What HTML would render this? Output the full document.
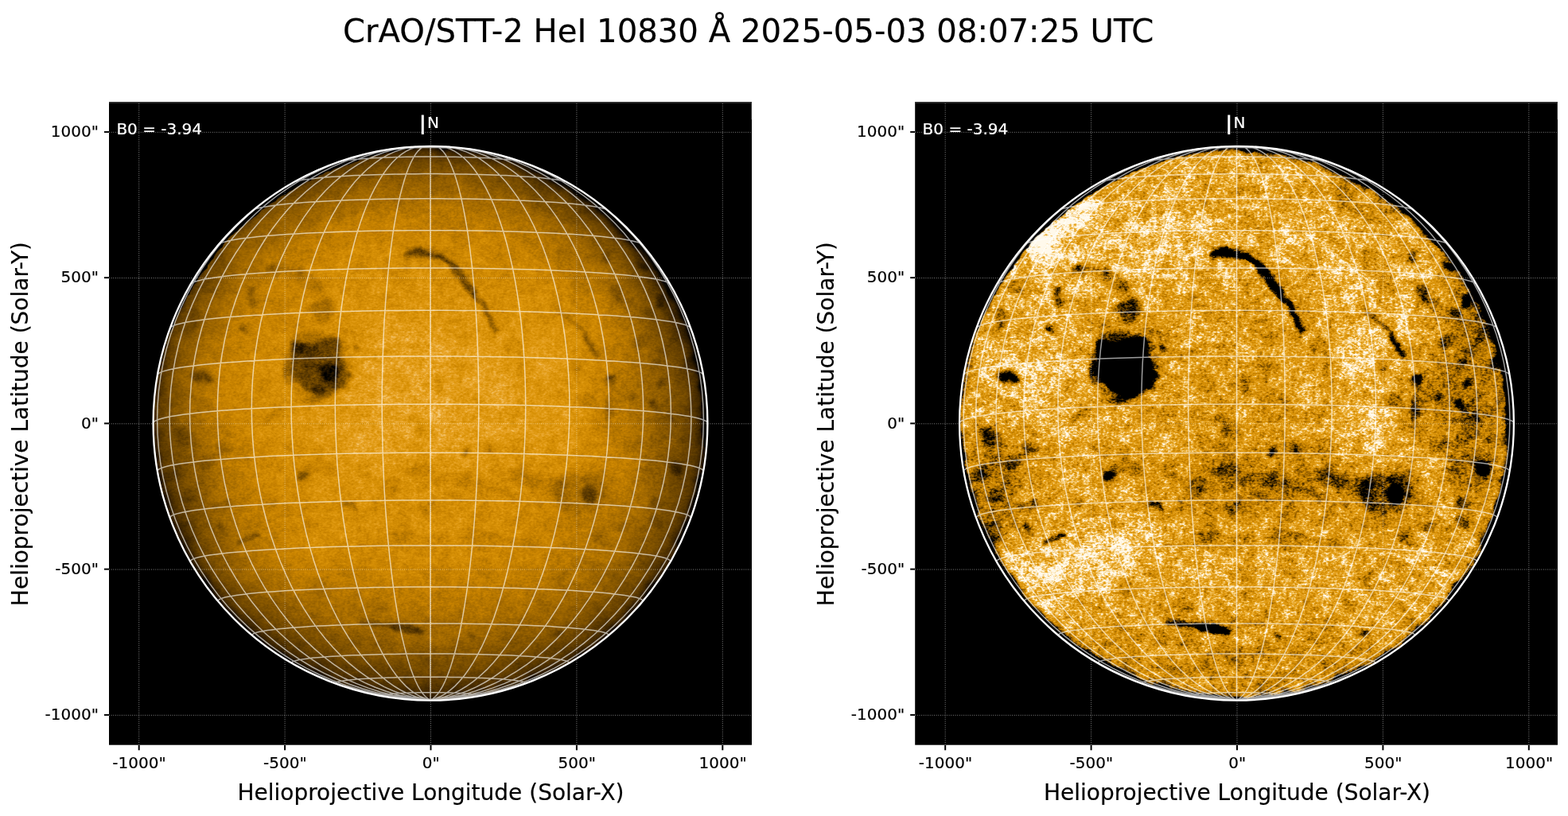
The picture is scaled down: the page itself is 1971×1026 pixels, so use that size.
<!DOCTYPE html>
<html lang="en"><head><meta charset="utf-8"><title>CrAO/STT-2 HeI 10830 Å</title>
<style>html,body{margin:0;padding:0;background:#fff;overflow:hidden}svg{display:block}text{font-family:"DejaVu Sans","Liberation Sans",sans-serif;fill:#000;stroke:#000;stroke-width:0.18px}.w{fill:#fff;stroke:#fff}</style></head><body>
<svg width="1971" height="1026" viewBox="0 0 1971 1026">
<defs>
<filter id="b0" x="-50%" y="-50%" width="200%" height="200%"><feGaussianBlur stdDeviation="0.7"/></filter><filter id="b1" x="-50%" y="-50%" width="200%" height="200%"><feGaussianBlur stdDeviation="1.2"/></filter><filter id="b2" x="-50%" y="-50%" width="200%" height="200%"><feGaussianBlur stdDeviation="2.5"/></filter><filter id="b3" x="-50%" y="-50%" width="200%" height="200%"><feGaussianBlur stdDeviation="5"/></filter><filter id="b4" x="-50%" y="-50%" width="200%" height="200%"><feGaussianBlur stdDeviation="10"/></filter><filter id="b5" x="-50%" y="-50%" width="200%" height="200%"><feGaussianBlur stdDeviation="20"/></filter><filter id="cmL" x="-2%" y="-2%" width="104%" height="104%" color-interpolation-filters="sRGB"><feTurbulence type="fractalNoise" baseFrequency="0.045" numOctaves="2" seed="5" result="dt"/><feDisplacementMap in="SourceGraphic" in2="dt" scale="11" xChannelSelector="R" yChannelSelector="G" result="ds"/><feColorMatrix in="ds" type="matrix" values="0 1 0 0 0 0 1 0 0 0 0 1 0 0 0 0 0 0 0 1" result="ld"/><feColorMatrix in="ds" type="matrix" values="1 0 0 0 0 1 0 0 0 0 1 0 0 0 0 0 0 0 0 1" result="f0"/><feTurbulence type="fractalNoise" baseFrequency="0.04 0.05" numOctaves="2" seed="9" result="t0"/><feColorMatrix in="t0" type="matrix" values="0 0 1 0 0 0 0 1 0 0 0 0 1 0 0 0 0 0 0 1" result="n0"/><feComposite in="f0" in2="n0" operator="arithmetic" k1="0" k2="1" k3="0.120" k4="-0.060" result="c0"/><feTurbulence type="fractalNoise" baseFrequency="0.12 0.16" numOctaves="2" seed="3" result="t1"/><feColorMatrix in="t1" type="matrix" values="1 0 0 0 0 1 0 0 0 0 1 0 0 0 0 0 0 0 0 1" result="n1"/><feComposite in="c0" in2="n1" operator="arithmetic" k1="0" k2="1" k3="0.125" k4="-0.062" result="c1"/><feTurbulence type="fractalNoise" baseFrequency="0.3 0.46" numOctaves="2" seed="7" result="t2"/><feColorMatrix in="t2" type="matrix" values="0 1 0 0 0 0 1 0 0 0 0 1 0 0 0 0 0 0 0 1" result="n2"/><feComposite in="c1" in2="n2" operator="arithmetic" k1="0" k2="1" k3="0.165" k4="-0.083" result="c2"/><feComposite in="c2" in2="ld" operator="arithmetic" k1="1" k2="0" k3="0" k4="0" result="fl"/><feComponentTransfer in="fl"><feFuncR type="table" tableValues="0 0.054 0.108 0.162 0.22 0.279 0.337 0.394 0.444 0.494 0.544 0.594 0.638 0.682 0.726 0.77 0.802 0.833 0.862 0.885 0.907 0.927 0.947 0.962 0.974 0.984 0.991 0.999 1 1 1 1 1 1 1 1 1 1 1 1 1"/><feFuncG type="table" tableValues="0 0.032 0.065 0.097 0.134 0.173 0.212 0.25 0.284 0.317 0.351 0.384 0.414 0.444 0.473 0.503 0.529 0.555 0.582 0.611 0.639 0.687 0.738 0.791 0.845 0.892 0.932 0.972 0.98 0.98 0.98 0.98 0.98 0.98 0.98 0.98 0.98 0.98 0.98 0.98 0.98"/><feFuncB type="table" tableValues="0 0 0 0 0 0 0 0 0 0 0 0 0 0 0 0 0.009 0.018 0.04 0.091 0.142 0.246 0.358 0.474 0.591 0.7 0.8 0.901 0.922 0.922 0.922 0.922 0.922 0.922 0.922 0.922 0.922 0.922 0.922 0.922 0.922"/></feComponentTransfer></filter><filter id="cmR" x="-2%" y="-2%" width="104%" height="104%" color-interpolation-filters="sRGB"><feTurbulence type="fractalNoise" baseFrequency="0.045" numOctaves="2" seed="5" result="dt"/><feDisplacementMap in="SourceGraphic" in2="dt" scale="11" xChannelSelector="R" yChannelSelector="G" result="ds"/><feColorMatrix in="ds" type="matrix" values="0 1 0 0 0 0 1 0 0 0 0 1 0 0 0 0 0 0 0 1" result="ld"/><feColorMatrix in="ds" type="matrix" values="1 0 0 0 0 1 0 0 0 0 1 0 0 0 0 0 0 0 0 1" result="f0"/><feTurbulence type="fractalNoise" baseFrequency="0.04 0.05" numOctaves="2" seed="9" result="t0"/><feColorMatrix in="t0" type="matrix" values="0 0 1 0 0 0 0 1 0 0 0 0 1 0 0 0 0 0 0 1" result="n0"/><feComposite in="f0" in2="n0" operator="arithmetic" k1="0" k2="1" k3="0.120" k4="-0.060" result="c0"/><feTurbulence type="fractalNoise" baseFrequency="0.12 0.16" numOctaves="2" seed="3" result="t1"/><feColorMatrix in="t1" type="matrix" values="1 0 0 0 0 1 0 0 0 0 1 0 0 0 0 0 0 0 0 1" result="n1"/><feComposite in="c0" in2="n1" operator="arithmetic" k1="0" k2="1" k3="0.125" k4="-0.062" result="c1"/><feTurbulence type="fractalNoise" baseFrequency="0.3 0.46" numOctaves="2" seed="7" result="t2"/><feColorMatrix in="t2" type="matrix" values="0 1 0 0 0 0 1 0 0 0 0 1 0 0 0 0 0 0 0 1" result="n2"/><feComposite in="c1" in2="n2" operator="arithmetic" k1="0" k2="1" k3="0.165" k4="-0.083" result="c2"/><feComposite in="c2" in2="ld" operator="arithmetic" k1="1" k2="0" k3="0" k4="0" result="fl"/><feComponentTransfer in="fl"><feFuncR type="table" tableValues="0 0 0 0 0 0 0 0 0 0 0 0 0 0 0.071 0.26 0.45 0.618 0.763 0.846 0.897 0.946 0.985 1 1 1 1 1 1 1 1 1 1 1 1 1 1 1 1 1 1"/><feFuncG type="table" tableValues="0 0 0 0 0 0 0 0 0 0 0 0 0 0 0.042 0.162 0.287 0.4 0.498 0.566 0.63 0.745 0.896 0.98 0.98 0.98 0.98 0.98 0.98 0.98 0.98 0.98 0.98 0.98 0.98 0.98 0.98 0.98 0.98 0.98 0.98"/><feFuncB type="table" tableValues="0 0 0 0 0 0 0 0 0 0 0 0 0 0 0 0 0 0 0 0.021 0.112 0.333 0.71 0.922 0.922 0.922 0.922 0.922 0.922 0.922 0.922 0.922 0.922 0.922 0.922 0.922 0.922 0.922 0.922 0.922 0.922"/></feComponentTransfer></filter><linearGradient id="vg" x1="0" y1="-350" x2="0" y2="350" gradientUnits="userSpaceOnUse"><stop offset="0" stop-color="#fff6ff"/><stop offset="0.35" stop-color="#ffffff"/><stop offset="0.6" stop-color="#fff8ff"/><stop offset="0.8" stop-color="#ffe4ff"/><stop offset="1" stop-color="#ffccff"/></linearGradient><radialGradient id="ld" cx="0" cy="0" r="348.4" gradientUnits="userSpaceOnUse" gradientTransform="matrix(1 0 0.018 1 -3 0.3)"><stop offset="0" stop-color="#ffffff"/><stop offset="0.25" stop-color="#fff5ff"/><stop offset="0.5" stop-color="#ffdeff"/><stop offset="0.65" stop-color="#ffcbff"/><stop offset="0.77" stop-color="#ffb4ff"/><stop offset="0.85" stop-color="#ff98ff"/><stop offset="0.9" stop-color="#ff80ff"/><stop offset="0.94" stop-color="#ff6aff"/><stop offset="0.965" stop-color="#ff54ff"/><stop offset="0.985" stop-color="#ff36ff"/><stop offset="1.0" stop-color="#ff08ff"/></radialGradient><radialGradient id="ldr" cx="0" cy="0" r="348.4" gradientUnits="userSpaceOnUse" gradientTransform="matrix(1 0 0.018 1 -3 0.3)"><stop offset="0" stop-color="#fff4ff"/><stop offset="0.4" stop-color="#fff9ff"/><stop offset="0.7" stop-color="#ffffff"/><stop offset="0.965" stop-color="#ffffff"/><stop offset="0.98" stop-color="#ffe0ff"/><stop offset="0.99" stop-color="#ff99ff"/><stop offset="1.0" stop-color="#ff00ff"/></radialGradient>
<clipPath id="disk"><path d="M348.9,-0.0 348.4,-18.3 347.0,-36.5 344.6,-54.6 341.3,-72.5 337.0,-90.3 331.8,-107.8 325.7,-125.0 318.7,-141.9 310.9,-158.4 302.2,-174.5 292.6,-190.0 282.3,-205.1 271.1,-219.6 259.3,-233.5 246.7,-246.7 233.5,-259.3 219.6,-271.1 205.1,-282.3 190.0,-292.6 174.5,-302.2 158.4,-310.9 141.9,-318.7 125.0,-325.7 107.8,-331.8 90.3,-337.0 72.5,-341.3 54.6,-344.5 36.5,-347.0 32.8,-347.4 29.2,-347.2 25.5,-347.9 21.9,-348.2 18.2,-347.7 14.5,-346.9 10.9,-347.1 7.3,-347.1 3.6,-348.0 0.0,-347.2 -3.6,-347.5 -7.3,-347.5 -10.9,-347.3 -14.5,-346.8 -18.1,-345.2 -21.7,-344.9 -25.3,-344.5 -28.9,-344.0 -32.6,-344.6 -36.1,-343.8 -39.6,-342.6 -43.2,-341.8 -46.7,-340.9 -50.2,-340.1 -54.0,-340.8 -57.3,-339.0 -60.8,-338.1 -64.4,-337.6 -68.0,-337.3 -71.4,-335.9 -75.0,-335.6 -78.1,-333.2 -81.6,-332.3 -85.2,-331.8 -88.7,-331.2 -91.9,-329.0 -95.4,-328.5 -98.7,-326.8 -102.0,-325.6 -105.6,-324.9 -109.0,-323.8 -112.2,-322.2 -115.7,-321.3 -119.2,-320.5 -122.4,-318.9 -125.4,-316.8 -129.2,-316.7 -132.5,-315.3 -135.4,-312.9 -138.9,-312.0 -142.0,-310.1 -145.2,-308.6 -148.5,-307.3 -151.2,-304.6 -155.0,-304.3 -158.0,-302.2 -161.3,-300.9 -164.1,-298.5 -167.5,-297.3 -170.5,-295.3 -173.2,-292.9 -176.7,-291.7 -179.5,-289.5 -182.2,-287.1 -186.0,-286.5 -189.1,-284.6 -191.9,-282.4 -194.3,-279.6 -197.4,-277.8 -200.8,-276.3 -203.6,-274.1 -206.6,-272.2 -209.2,-269.7 -212.5,-268.1 -214.6,-265.0 -217.1,-262.5 -219.9,-260.2 -223.0,-258.3 -225.6,-255.8 -229.5,-254.9 -232.0,-252.3 -233.9,-249.1 -236.9,-247.0 -240.1,-245.2 -242.1,-242.1 -245.2,-240.1 -247.6,-237.4 -250.9,-235.6 -253.5,-233.1 -255.5,-230.1 -258.2,-227.7 -260.2,-224.6 -261.6,-221.1 -264.7,-219.0 -267.4,-216.5 -269.5,-213.6 -271.4,-210.5 -272.7,-207.0 -275.3,-204.5 -277.5,-201.6 -279.8,-198.8 -280.5,-194.9 -283.5,-192.6 -285.9,-190.0 -288.3,-187.2 -290.3,-184.3 -292.2,-181.2 -293.4,-177.7 -296.2,-175.2 -298.4,-172.3 -299.6,-168.8 -301.8,-165.9 -302.5,-162.2 -305.7,-159.8 -306.8,-156.3 -308.2,-153.0 -310.5,-150.1 -311.2,-146.4 -313.7,-143.6 -315.6,-140.5 -316.9,-137.2 -319.1,-134.1 -320.0,-130.6 -321.7,-127.4 -322.1,-123.6 -323.6,-120.3 -325.5,-117.2 -327.6,-114.1 -328.5,-110.5 -329.7,-107.1 -330.9,-103.7 -332.1,-100.3 -332.1,-96.5 -334.4,-93.4 -335.6,-89.9 -335.1,-86.0 -336.7,-82.7 -336.9,-79.0 -338.8,-75.7 -338.8,-72.0 -340.1,-68.6 -340.6,-65.0 -341.4,-61.4 -342.6,-57.9 -343.9,-54.5 -344.3,-50.8 -343.7,-47.1 -344.2,-43.5 -344.7,-39.9 -346.2,-36.4 -346.0,-32.7 -346.2,-29.1 -346.8,-25.5 -346.8,-21.8 -347.6,-18.2 -347.6,-14.6 -347.7,-10.9 -348.6,-7.3 -347.6,-3.6 -347.6,-0.0 -348.9,3.7 -347.5,7.3 -347.5,10.9 -347.9,14.6 -348.4,18.3 -347.2,21.8 -347.7,25.5 -346.0,43.7 -343.4,61.8 -339.7,79.7 -335.0,97.3 -329.5,114.7 -323.0,131.8 -315.7,148.6 -307.5,164.9 -298.4,180.7 -288.6,196.1 -277.9,210.9 -266.5,225.2 -254.3,238.8 -241.5,251.8 -228.0,264.1 -213.8,275.7 -199.1,286.5 -183.9,296.5 -168.1,305.7 -151.9,314.1 -135.2,321.6 -118.2,328.3 -100.8,334.0 -83.2,338.8 -65.4,342.7 -47.4,345.7 -29.2,347.7 -11.0,348.7 7.3,348.8 25.6,348.0 43.7,346.1 61.8,343.4 79.7,339.7 97.3,335.0 114.7,329.5 131.8,323.0 148.6,315.7 164.9,307.5 180.7,298.4 196.1,288.6 210.9,277.9 225.2,266.5 238.8,254.3 251.8,241.5 264.1,228.0 275.7,213.8 286.5,199.1 296.5,183.9 305.7,168.1 314.1,151.9 321.6,135.2 328.3,118.2 334.0,100.8 338.8,83.2 342.7,65.4 345.7,47.4 347.7,29.2 348.7,11.0Z"/></clipPath>
<g id="feat"><g filter="url(#b5)"><ellipse cx="70" cy="78" rx="150" ry="36" fill="#00ff00" opacity="0.075"/><ellipse cx="295" cy="-50" rx="36" ry="170" fill="#00ff00" opacity="0.16"/><ellipse cx="-300" cy="70" rx="38" ry="80" fill="#00ff00" opacity="0.14"/><ellipse cx="0" cy="305" rx="250" ry="55" fill="#00ff00" opacity="0.06"/><ellipse cx="-150" cy="-130" rx="50" ry="50" fill="#00ff00" opacity="0.08"/><ellipse cx="200" cy="90" rx="45" ry="35" fill="#00ff00" opacity="0.1"/><ellipse cx="215" cy="-30" rx="40" ry="60" fill="#00ff00" opacity="0.08"/><ellipse cx="-230" cy="-240" rx="60" ry="28" transform="rotate(-45 -230 -240)" fill="#ffff00" opacity="0.1"/><ellipse cx="-185" cy="168" rx="100" ry="26" transform="rotate(-17 -185 168)" fill="#ffff00" opacity="0.1"/><ellipse cx="-120" cy="-200" rx="120" ry="60" transform="rotate(-20 -120 -200)" fill="#ffff00" opacity="0.04"/><ellipse cx="-250" cy="-60" rx="50" ry="60" fill="#ffff00" opacity="0.05"/><ellipse cx="160" cy="-60" rx="35" ry="110" fill="#ffff00" opacity="0.05"/></g><g filter="url(#b4)"><ellipse cx="-251" cy="-226" rx="16.2" ry="15" transform="rotate(-45 -251 -226)" fill="#ffff00" opacity="0.14450000000000002"/><ellipse cx="-190" cy="-276" rx="18.8" ry="8.8" transform="rotate(-30 -190 -276)" fill="#ffff00" opacity="0.119"/><ellipse cx="-220" cy="-256" rx="37.5" ry="11.2" transform="rotate(-42 -220 -256)" fill="#ffff00" opacity="0.051000000000000004"/><ellipse cx="-235" cy="-235" rx="47.5" ry="18.8" transform="rotate(-45 -235 -235)" fill="#ffff00" opacity="0.034"/><ellipse cx="-315" cy="-85" rx="12.5" ry="20" fill="#ffff00" opacity="0.051000000000000004"/><ellipse cx="-215" cy="-62" rx="12.5" ry="12.5" fill="#ffff00" opacity="0.0425"/><ellipse cx="-274" cy="4" rx="17.5" ry="12.5" fill="#ffff00" opacity="0.0425"/><ellipse cx="-170" cy="14" rx="68.8" ry="11.2" transform="rotate(8 -170 14)" fill="#ffff00" opacity="0.0425"/><ellipse cx="-250" cy="-40" rx="15" ry="31.2" transform="rotate(-30 -250 -40)" fill="#ffff00" opacity="0.025500000000000002"/><ellipse cx="-240" cy="189" rx="22.5" ry="15" transform="rotate(-20 -240 189)" fill="#ffff00" opacity="0.068"/><ellipse cx="-231" cy="207" rx="15" ry="10" fill="#ffff00" opacity="0.051000000000000004"/><ellipse cx="-167" cy="150" rx="31.2" ry="12.5" transform="rotate(-5 -167 150)" fill="#ffff00" opacity="0.025500000000000002"/><ellipse cx="-144" cy="155" rx="25" ry="12.5" fill="#ffff00" opacity="0.0204"/><ellipse cx="-281" cy="180" rx="15" ry="12.5" fill="#ffff00" opacity="0.051000000000000004"/><ellipse cx="-100" cy="138" rx="22.5" ry="15" fill="#ffff00" opacity="0.025500000000000002"/><ellipse cx="-69" cy="177" rx="31.2" ry="12.5" fill="#ffff00" opacity="0.0204"/><ellipse cx="-80" cy="-240" rx="43.8" ry="31.2" fill="#ffff00" opacity="0.030600000000000002"/><ellipse cx="-50" cy="-110" rx="15" ry="7.5" fill="#ffff00" opacity="0.0425"/><ellipse cx="70" cy="-225" rx="37.5" ry="25" fill="#ffff00" opacity="0.025500000000000002"/><ellipse cx="135" cy="-178" rx="18.8" ry="43.8" fill="#ffff00" opacity="0.0595"/><ellipse cx="177" cy="4" rx="22.5" ry="40" fill="#ffff00" opacity="0.0595"/><ellipse cx="160" cy="-90" rx="25" ry="37.5" fill="#ffff00" opacity="0.034"/><ellipse cx="297" cy="-58" rx="22.5" ry="27.5" fill="#ffff00" opacity="0.034"/><ellipse cx="246" cy="66" rx="20" ry="31.2" fill="#ffff00" opacity="0.0374"/><ellipse cx="91" cy="-46" rx="28.8" ry="28.8" fill="#ffff00" opacity="0.025500000000000002"/><ellipse cx="45" cy="204" rx="6.2" ry="10" fill="#ffff00" opacity="0.051000000000000004"/><ellipse cx="-20" cy="190" rx="50" ry="15" fill="#ffff00" opacity="0.025500000000000002"/><ellipse cx="134" cy="206" rx="7.5" ry="7.5" fill="#ffff00" opacity="0.0425"/><ellipse cx="-92" cy="18" rx="28.8" ry="17.5" fill="#ffff00" opacity="0.034"/><ellipse cx="-30" cy="-70" rx="56.2" ry="62.5" fill="#ffff00" opacity="0.017"/></g><g filter="url(#b2)"><ellipse cx="-12" cy="59" rx="18" ry="9" fill="#00ff00" opacity="0.15300000000000002"/><ellipse cx="-46" cy="80" rx="13" ry="11" fill="#00ff00" opacity="0.117"/><ellipse cx="13" cy="73" rx="11" ry="11" fill="#00ff00" opacity="0.108"/><ellipse cx="43" cy="71" rx="11" ry="13" fill="#00ff00" opacity="0.117"/><ellipse cx="66" cy="80" rx="11" ry="11" fill="#00ff00" opacity="0.108"/><ellipse cx="114" cy="64" rx="13" ry="11" fill="#00ff00" opacity="0.117"/><ellipse cx="131" cy="75" rx="11" ry="11" fill="#00ff00" opacity="0.117"/><ellipse cx="157" cy="80" rx="13" ry="13" fill="#00ff00" opacity="0.12600000000000003"/><ellipse cx="188" cy="89" rx="36" ry="26" fill="#00ff00" opacity="0.135"/><ellipse cx="-135" cy="-143" rx="15" ry="13" fill="#00ff00" opacity="0.189"/><ellipse cx="-162" cy="-187" rx="9" ry="6" fill="#00ff00" opacity="0.14400000000000002"/><ellipse cx="-144" cy="-173" rx="9" ry="7" fill="#00ff00" opacity="0.14400000000000002"/><ellipse cx="-175" cy="-190" rx="31" ry="7" transform="rotate(15 -175 -190)" fill="#00ff00" opacity="0.1125"/><ellipse cx="-311" cy="16" rx="9" ry="13" fill="#00ff00" opacity="0.162"/><ellipse cx="-322" cy="64" rx="9" ry="11" fill="#00ff00" opacity="0.14400000000000002"/><ellipse cx="-281" cy="50" rx="9" ry="9" fill="#00ff00" opacity="0.135"/><ellipse cx="-258" cy="30" rx="9" ry="9" fill="#00ff00" opacity="0.135"/><ellipse cx="-304" cy="91" rx="11" ry="9" fill="#00ff00" opacity="0.135"/><ellipse cx="-258" cy="105" rx="11" ry="6" transform="rotate(-20 -258 105)" fill="#00ff00" opacity="0.162"/><ellipse cx="-297" cy="-134" rx="9" ry="11" fill="#00ff00" opacity="0.162"/><ellipse cx="-279" cy="-171" rx="9" ry="9" fill="#00ff00" opacity="0.1125"/><ellipse cx="-300" cy="-123" rx="7" ry="7" fill="#00ff00" opacity="0.135"/><ellipse cx="-231" cy="-121" rx="7" ry="6" fill="#00ff00" opacity="0.162"/><ellipse cx="-305" cy="135" rx="11" ry="16" fill="#00ff00" opacity="0.135"/><ellipse cx="10" cy="-48" rx="5" ry="13" fill="#00ff00" opacity="0.189"/><ellipse cx="-21" cy="-7" rx="7" ry="6" fill="#00ff00" opacity="0.1125"/><ellipse cx="-16" cy="10" rx="7" ry="7" fill="#00ff00" opacity="0.1125"/><ellipse cx="4" cy="10" rx="6" ry="9" fill="#00ff00" opacity="0.1125"/><ellipse cx="-5" cy="105" rx="7" ry="9" fill="#00ff00" opacity="0.135"/><ellipse cx="-201" cy="-9" rx="9" ry="7" fill="#00ff00" opacity="0.09000000000000001"/><ellipse cx="-137" cy="55" rx="26" ry="9" transform="rotate(10 -137 55)" fill="#00ff00" opacity="0.1125"/><ellipse cx="236" cy="-160" rx="6" ry="14" transform="rotate(-15 236 -160)" fill="#00ff00" opacity="0.189"/><ellipse cx="223" cy="-210" rx="6" ry="10" transform="rotate(-15 223 -210)" fill="#00ff00" opacity="0.14400000000000002"/><ellipse cx="177" cy="-208" rx="7" ry="7" fill="#00ff00" opacity="0.09000000000000001"/><ellipse cx="184" cy="-176" rx="7" ry="9" fill="#00ff00" opacity="0.09000000000000001"/><ellipse cx="184" cy="-73" rx="9" ry="9" fill="#00ff00" opacity="0.135"/><ellipse cx="193" cy="-28" rx="9" ry="9" fill="#00ff00" opacity="0.135"/><ellipse cx="255" cy="-34" rx="7" ry="7" fill="#00ff00" opacity="0.135"/><ellipse cx="285" cy="-71" rx="7" ry="6" fill="#00ff00" opacity="0.135"/><ellipse cx="225" cy="-20" rx="7" ry="21" transform="rotate(5 225 -20)" fill="#00ff00" opacity="0.189"/><ellipse cx="326" cy="-80" rx="6" ry="15" fill="#00ff00" opacity="0.189"/><ellipse cx="285" cy="100" rx="9" ry="9" fill="#00ff00" opacity="0.162"/><ellipse cx="257" cy="25" rx="11" ry="9" fill="#00ff00" opacity="0.1125"/><ellipse cx="276" cy="-139" rx="7" ry="7" fill="#00ff00" opacity="0.162"/><ellipse cx="212" cy="145" rx="7" ry="9" fill="#00ff00" opacity="0.135"/><ellipse cx="207" cy="175" rx="8" ry="7" fill="#00ff00" opacity="0.135"/><ellipse cx="269" cy="178" rx="9" ry="7" fill="#00ff00" opacity="0.135"/><ellipse cx="166" cy="191" rx="9" ry="7" fill="#00ff00" opacity="0.135"/><ellipse cx="285" cy="125" rx="9" ry="7" fill="#00ff00" opacity="0.135"/><ellipse cx="308" cy="141" rx="7" ry="9" fill="#00ff00" opacity="0.135"/><ellipse cx="-35" cy="141" rx="13" ry="9" fill="#00ff00" opacity="0.135"/><ellipse cx="60" cy="140" rx="21" ry="7" fill="#00ff00" opacity="0.1125"/><ellipse cx="73" cy="173" rx="7" ry="6" fill="#00ff00" opacity="0.1125"/><ellipse cx="-94" cy="216" rx="7" ry="7" fill="#00ff00" opacity="0.1125"/><ellipse cx="165" cy="-285" rx="51" ry="31" transform="rotate(30 165 -285)" fill="#00ff00" opacity="0.054"/><ellipse cx="-142" cy="-72" rx="43" ry="45" fill="#00ff00" opacity="0.135"/><ellipse cx="262" cy="-105" rx="8" ry="11" transform="rotate(10 262 -105)" fill="#00ff00" opacity="0.135"/><ellipse cx="300" cy="-10" rx="7" ry="11" fill="#00ff00" opacity="0.135"/><ellipse cx="318" cy="20" rx="6" ry="10" fill="#00ff00" opacity="0.135"/><ellipse cx="270" cy="60" rx="8" ry="8" fill="#00ff00" opacity="0.1125"/><ellipse cx="305" cy="-110" rx="7" ry="10" fill="#00ff00" opacity="0.135"/><ellipse cx="250" cy="-150" rx="7" ry="9" fill="#00ff00" opacity="0.1125"/><ellipse cx="330" cy="-30" rx="5" ry="11" fill="#00ff00" opacity="0.135"/><ellipse cx="240" cy="130" rx="9" ry="7" fill="#00ff00" opacity="0.1125"/><ellipse cx="120" cy="150" rx="9" ry="7" fill="#00ff00" opacity="0.099"/><ellipse cx="-200" cy="100" rx="9" ry="7" fill="#00ff00" opacity="0.099"/><ellipse cx="-280" cy="-20" rx="8" ry="10" fill="#00ff00" opacity="0.099"/><ellipse cx="-60" cy="-160" rx="8" ry="6" fill="#00ff00" opacity="0.09000000000000001"/><ellipse cx="100" cy="-100" rx="7" ry="9" fill="#00ff00" opacity="0.081"/><ellipse cx="30" cy="-130" rx="8" ry="6" fill="#00ff00" opacity="0.081"/><ellipse cx="150" cy="30" rx="7" ry="7" fill="#00ff00" opacity="0.09000000000000001"/><ellipse cx="-60" cy="230" rx="9" ry="6" fill="#00ff00" opacity="0.09000000000000001"/><ellipse cx="100" cy="250" rx="10" ry="6" fill="#00ff00" opacity="0.099"/><ellipse cx="210" cy="230" rx="9" ry="7" fill="#00ff00" opacity="0.099"/><ellipse cx="-150" cy="260" rx="9" ry="6" fill="#00ff00" opacity="0.09000000000000001"/><ellipse cx="0" cy="300" rx="11" ry="6" fill="#00ff00" opacity="0.09000000000000001"/></g><g filter="url(#b2)"><path d="M-175,-104 -161,-98.5 -134,-105.5 -117.5,-110 -113,-90 -109,-76 -105,-58 -108,-45.5 -127,-35.5 -139,-31.5 -159,-41.5 -170,-58 -178,-65 -174,-83Z" fill="#00ff00" opacity="0.52"/><ellipse cx="-126" cy="-64" rx="14" ry="11" fill="#00ff00" opacity="0.85"/><ellipse cx="-152" cy="-93" rx="18" ry="7" transform="rotate(-5 -152 -93)" fill="#00ff00" opacity="0.4"/><ellipse cx="-140" cy="-41" rx="8" ry="6" fill="#00ff00" opacity="0.4"/><ellipse cx="-165" cy="-88" rx="6" ry="5" fill="#00ff00" opacity="0.4"/></g><g filter="url(#b2)"><ellipse cx="-94" cy="-92" rx="4" ry="4" fill="#00ff00" opacity="0.4"/><ellipse cx="-103" cy="-60" rx="4" ry="4" fill="#00ff00" opacity="0.35"/><ellipse cx="-180" cy="-70" rx="5" ry="8" fill="#00ff00" opacity="0.25"/><ellipse cx="-150" cy="-28" rx="8" ry="4" fill="#00ff00" opacity="0.25"/></g><g filter="url(#b2)"><ellipse cx="-17" cy="-214" rx="17" ry="6" transform="rotate(-5 -17 -214)" fill="#00ff00" opacity="0.36"/><path d="M-34,-212 -24,-216 -12,-217 0,-214 10,-211" fill="none" stroke="#00ff00" stroke-width="8" stroke-linecap="round" stroke-linejoin="round" opacity="0.45"/><path d="M10,-211 22,-205 30,-196 38,-184 46,-174 55,-163" fill="none" stroke="#00ff00" stroke-width="8" stroke-linecap="round" stroke-linejoin="round" opacity="0.6"/><path d="M55,-163 66,-150 75,-134 84,-118" fill="none" stroke="#00ff00" stroke-width="6" stroke-linecap="round" stroke-linejoin="round" opacity="0.52"/><path d="M157,-146 168,-137 178,-128 188,-118 196,-108" fill="none" stroke="#00ff00" stroke-width="6" stroke-linecap="round" stroke-linejoin="round" opacity="0.25"/><path d="M196,-108 201,-100 205,-92 208,-85" fill="none" stroke="#00ff00" stroke-width="6.5" stroke-linecap="round" stroke-linejoin="round" opacity="0.42"/><path d="M-85,247 -69,251 -46,255" fill="none" stroke="#00ff00" stroke-width="5.5" stroke-linecap="round" stroke-linejoin="round" opacity="0.36"/><path d="M-46,255 -28,258 -14,260" fill="none" stroke="#00ff00" stroke-width="9" stroke-linecap="round" stroke-linejoin="round" opacity="0.58"/><path d="M-240,149 -217,142" fill="none" stroke="#00ff00" stroke-width="5" stroke-linecap="round" stroke-linejoin="round" opacity="0.45"/><path d="M-112,101 -96,106" fill="none" stroke="#00ff00" stroke-width="5" stroke-linecap="round" stroke-linejoin="round" opacity="0.45"/><ellipse cx="-223" cy="-166" rx="5.5" ry="6" fill="#00ff00" opacity="0.35100000000000003"/><ellipse cx="-224" cy="-153" rx="5.5" ry="5.5" fill="#00ff00" opacity="0.35100000000000003"/><ellipse cx="-199" cy="-194" rx="4.5" ry="4" fill="#00ff00" opacity="0.31200000000000006"/><ellipse cx="-194" cy="-185" rx="4" ry="4" fill="#00ff00" opacity="0.2808"/><ellipse cx="-232" cy="-118" rx="4" ry="4" fill="#00ff00" opacity="0.31200000000000006"/><ellipse cx="-288" cy="-59" rx="12.5" ry="8" fill="#00ff00" opacity="0.39"/><ellipse cx="-160" cy="64" rx="9.5" ry="8.5" fill="#00ff00" opacity="0.3276"/><ellipse cx="-162" cy="66" rx="5.5" ry="4.5" fill="#00ff00" opacity="0.23399999999999999"/><ellipse cx="42" cy="35" rx="5.5" ry="5.5" fill="#00ff00" opacity="0.39"/><ellipse cx="73" cy="34" rx="5" ry="3.5" fill="#00ff00" opacity="0.31200000000000006"/><ellipse cx="227" cy="-55" rx="5.5" ry="5.5" fill="#00ff00" opacity="0.46799999999999997"/><ellipse cx="291" cy="-51" rx="4" ry="8" transform="rotate(20 291 -51)" fill="#00ff00" opacity="0.39"/><ellipse cx="280" cy="-23" rx="5" ry="4" fill="#00ff00" opacity="0.39"/><ellipse cx="309" cy="57" rx="9" ry="9" fill="#00ff00" opacity="0.46799999999999997"/><ellipse cx="200" cy="89" rx="9.5" ry="9.5" fill="#00ff00" opacity="0.46799999999999997"/><ellipse cx="267" cy="-197" rx="8" ry="4.5" transform="rotate(25 267 -197)" fill="#00ff00" opacity="0.39"/><ellipse cx="289.5" cy="-153" rx="6.5" ry="8" fill="#00ff00" opacity="0.39"/><ellipse cx="161" cy="263.5" rx="6" ry="4" fill="#00ff00" opacity="0.2964"/><ellipse cx="52" cy="270" rx="4" ry="4" fill="#00ff00" opacity="0.24960000000000002"/><ellipse cx="-262" cy="131" rx="5" ry="5" fill="#00ff00" opacity="0.2964"/><ellipse cx="-94" cy="-266" rx="3" ry="3" fill="#00ff00" opacity="0.35100000000000003"/></g></g>
<path id="hg" d="M0,347.7L-18.2,347.2 -36.4,345.8 -54.5,343.4 -72.5,340.1 -90.2,335.8 -107.7,330.7 -124.9,324.6 -141.7,317.6 -158.2,309.8 -174.2,301.1 -189.8,291.6 -204.8,281.3 -219.3,270.2 -233.2,258.4 -246.4,245.8 -259,232.6 -270.8,218.8 -281.9,204.3 -292.2,189.3 -301.8,173.8 -310.5,157.8 -318.3,141.4 -325.3,124.6 -331.4,107.4 -336.6,90 -340.8,72.3 -344.1,54.4 -346.5,36.3M0,347.7L-18,347 -35.9,345.4 -53.7,342.8 -71.4,339.3 -88.8,334.8 -106.1,329.5 -123,323.2 -139.6,316 -155.9,308 -171.7,299.1 -187,289.4 -201.8,279 -216.1,267.7 -229.8,255.7 -242.8,243 -255.2,229.7 -266.9,215.7 -277.8,201.1 -288,186 -297.4,170.3 -306,154.2 -313.7,137.7 -320.6,120.8 -326.6,103.5 -331.7,86 -335.9,68.3 -339.2,50.3 -341.5,32.2 -342.9,14.1 -343.4,-4.2 -342.9,-22.4 -341.5,-40.5 -339.1,-58.5 -335.8,-76.4 -331.6,-94 -326.5,-111.4 -320.5,-128.5 -313.6,-145.3 -305.9,-161.6 -297.3,-177.5 -287.9,-192.9 -277.7,-207.8 -266.8,-222.1 -255.1,-235.8 -242.7,-248.8 -229.7,-261.2 -216,-272.8 -201.7,-283.7 -186.9,-293.8 -171.6,-303.1 -155.8,-311.6 -139.6,-319.2M0,347.7L-17.1,346.8 -34.2,345 -51.2,342.2 -68.1,338.5 -84.8,333.8 -101.2,328.3 -117.4,321.8 -133.3,314.5 -148.8,306.3 -163.9,297.2 -178.5,287.4 -192.7,276.7 -206.3,265.3 -219.3,253.1 -231.8,240.3 -243.6,226.8 -254.8,212.7 -265.2,198 -275,182.7 -284,167 -292.2,150.7 -299.6,134.1 -306.1,117.1 -311.9,99.8 -316.7,82.2 -320.7,64.4 -323.9,46.4 -326.1,28.2 -327.5,10 -327.9,-8.2 -327.4,-26.4 -326.1,-44.5 -323.8,-62.6 -320.7,-80.4 -316.7,-98 -311.8,-115.4 -306.1,-132.4 -299.5,-149 -292.1,-165.3 -283.9,-181.1 -274.9,-196.4 -265.1,-211.2 -254.7,-225.3 -243.5,-238.9 -231.7,-251.8 -219.2,-264 -206.2,-275.5 -192.6,-286.2 -178.4,-296.1 -163.8,-305.3 -148.7,-313.5 -133.2,-321 -117.4,-327.5 -101.2,-333.2 -84.7,-337.9M0,347.7L-15.8,346.6 -31.6,344.6 -47.2,341.7 -62.8,337.8 -78.2,332.9 -93.3,327.2 -108.2,320.6 -122.9,313 -137.2,304.7 -151.1,295.4 -164.6,285.4 -177.6,274.6 -190.2,263 -202.3,250.7 -213.7,237.7 -224.7,224.1 -234.9,209.9 -244.6,195 -253.6,179.6 -261.9,163.8 -269.4,147.5 -276.3,130.7 -282.3,113.6 -287.6,96.2 -292.1,78.6 -295.8,60.7 -298.7,42.6 -300.8,24.5 -302,6.3 -302.4,-12 -302,-30.2 -300.7,-48.3 -298.7,-66.3 -295.8,-84.2 -292.1,-101.7 -287.6,-119 -282.3,-136 -276.2,-152.6 -269.3,-168.8 -261.8,-184.5 -253.5,-199.7 -244.5,-214.3 -234.9,-228.4 -224.6,-241.8 -213.6,-254.6 -202.2,-266.7 -190.1,-278 -177.5,-288.5 -164.5,-298.3 -151,-307.3 -137.1,-315.4 -122.8,-322.6 -108.2,-329 -93.3,-334.4 -78.1,-338.9 -62.7,-342.5 -47.2,-345.2M0,347.7L-14,346.5 -27.9,344.3 -41.8,341.2 -55.5,337.1 -69.2,332.1 -82.6,326.2 -95.8,319.4 -108.7,311.7 -121.4,303.2 -133.7,293.8 -145.6,283.7 -157.2,272.7 -168.3,261 -179,248.6 -189.2,235.4 -198.8,221.7 -207.9,207.3 -216.5,192.3 -224.4,176.9 -231.8,160.9 -238.5,144.5 -244.5,127.7 -249.9,110.5 -254.6,93 -258.6,75.3 -261.8,57.4 -264.4,39.3 -266.2,21.1 -267.3,2.8 -267.7,-15.4 -267.3,-33.7 -266.2,-51.8 -264.4,-69.8 -261.8,-87.6 -258.5,-105.1 -254.5,-122.4 -249.8,-139.3 -244.4,-155.8 -238.4,-171.9 -231.7,-187.6 -224.3,-202.7 -216.4,-217.2 -207.8,-231.2 -198.7,-244.5 -189.1,-257.1 -178.9,-269.1 -168.2,-280.3 -157.1,-290.7 -145.6,-300.3 -133.6,-309.1 -121.3,-317 -108.7,-324.1 -95.7,-330.3 -82.5,-335.5 -69.1,-339.9 -55.5,-343.3 -41.8,-345.8M0,347.7L-11.7,346.3 -23.4,344 -35.1,340.7 -46.6,336.5 -58,331.4 -69.3,325.3 -80.4,318.4 -91.2,310.6 -101.9,301.9 -112.2,292.4 -122.2,282.1 -131.9,271 -141.3,259.2 -150.2,246.7 -158.8,233.4 -166.9,219.6 -174.6,205.1 -181.7,190 -188.4,174.5 -194.6,158.4 -200.2,141.9 -205.3,125 -209.8,107.8 -213.7,90.3 -217.1,72.5 -219.8,54.5 -222,36.4 -223.5,18.2 -224.4,-0.1 -224.7,-18.4 -224.4,-36.6 -223.5,-54.8 -222,-72.7 -219.8,-90.5 -217,-108 -213.7,-125.3 -209.7,-142.1 -205.2,-158.6 -200.1,-174.7 -194.5,-190.2 -188.3,-205.3 -181.7,-219.7 -174.5,-233.6 -166.8,-246.8 -158.7,-259.3 -150.2,-271.1 -141.2,-282.2 -131.9,-292.5 -122.2,-302 -112.1,-310.6 -101.8,-318.4 -91.2,-325.4 -80.3,-331.4 -69.3,-336.5 -58,-340.7 -46.6,-343.9 -35,-346.2 -23.4,-347.6M0,347.7L-9.1,346.2 -18.2,343.8 -27.3,340.4 -36.3,336.1 -45.1,330.8 -53.9,324.7 -62.5,317.6 -71,309.7 -79.3,300.9 -87.3,291.3 -95.1,280.9 -102.7,269.7 -109.9,257.8 -116.9,245.1 -123.6,231.8 -129.9,217.9 -135.8,203.3 -141.4,188.2 -146.6,172.5 -151.4,156.4 -155.8,139.8 -159.7,122.9 -163.3,105.6 -166.3,88 -168.9,70.2 -171.1,52.2 -172.7,34 -173.9,15.8 -174.7,-2.5 -174.9,-20.8 -174.7,-39 -173.9,-57.2 -172.7,-75.1 -171,-92.9 -168.9,-110.4 -166.3,-127.6 -163.2,-144.4 -159.7,-160.9 -155.7,-176.9 -151.4,-192.4 -146.6,-207.3 -141.4,-221.7 -135.8,-235.5 -129.8,-248.7 -123.5,-261.1 -116.8,-272.8 -109.9,-283.8 -102.6,-294 -95.1,-303.4 -87.2,-311.9 -79.2,-319.6 -70.9,-326.4 -62.5,-332.3 -53.9,-337.3 -45.1,-341.3 -36.2,-344.5 -27.3,-346.6 -18.2,-347.9M0,347.7L-6.2,346.1 -12.5,343.6 -18.7,340.1 -24.8,335.7 -30.9,330.4 -36.9,324.1 -42.8,317 -48.6,309 -54.2,300.2 -59.7,290.5 -65.1,280 -70.2,268.7 -75.2,256.7 -80,244 -84.5,230.6 -88.9,216.6 -92.9,202 -96.8,186.8 -100.3,171.1 -103.6,154.9 -106.6,138.3 -109.3,121.3 -111.7,104 -113.8,86.4 -115.6,68.5 -117.1,50.5 -118.2,32.3 -119,14 -119.5,-4.3 -119.7,-22.6 -119.5,-40.8 -119,-59 -118.2,-76.9 -117,-94.7 -115.6,-112.1 -113.8,-129.3 -111.7,-146.1 -109.3,-162.5 -106.6,-178.5 -103.6,-194 -100.3,-208.9 -96.7,-223.2 -92.9,-237 -88.8,-250 -84.5,-262.4 -79.9,-274.1 -75.2,-285 -70.2,-295.1 -65,-304.4 -59.7,-312.8 -54.2,-320.4 -48.5,-327.2 -42.8,-333 -36.9,-337.9 -30.9,-341.8 -24.8,-344.9 -18.6,-346.9 -12.5,-348.1M0,347.7L-3.2,346.1 -6.3,343.5 -9.5,340 -12.6,335.5 -15.7,330.1 -18.7,323.8 -21.7,316.6 -24.7,308.6 -27.5,299.7 -30.3,290 -33,279.4 -35.7,268.1 -38.2,256.1 -40.6,243.3 -42.9,229.9 -45.1,215.8 -47.2,201.2 -49.1,185.9 -50.9,170.2 -52.6,154 -54.1,137.4 -55.5,120.3 -56.7,103 -57.8,85.4 -58.7,67.5 -59.4,49.4 -60,31.2 -60.4,12.9 -60.7,-5.4 -60.8,-23.7 -60.7,-41.9 -60.4,-60 -60,-78 -59.4,-95.7 -58.7,-113.2 -57.8,-130.4 -56.7,-147.2 -55.5,-163.6 -54.1,-179.5 -52.6,-194.9 -50.9,-209.8 -49.1,-224.2 -47.2,-237.8 -45.1,-250.9 -42.9,-263.2 -40.6,-274.8 -38.2,-285.7 -35.6,-295.8 -33,-305 -30.3,-313.4 -27.5,-321 -24.6,-327.6 -21.7,-333.4 -18.7,-338.2 -15.7,-342.1 -12.6,-345.1 -9.5,-347.1 -6.3,-348.2M0,347.7L0,346 0,343.4 0,339.9 0,335.4 0,330 0,323.7 0,316.5 0,308.5 0,299.5 0,289.8 0,279.2 0,267.9 0,255.9 0,243.1 0,229.6 0,215.6 0,200.9 0,185.7 0,169.9 0,153.7 0,137 0,120 0,102.7 0,85 0,67.1 0,49.1 0,30.9 0,12.6 0,-5.7 0,-24 0,-42.3 0,-60.4 0,-78.4 0,-96.1 0,-113.6 0,-130.7 0,-147.5 0,-163.9 0,-179.8 0,-195.3 0,-210.2 0,-224.5 0,-238.1 0,-251.2 0,-263.5 0,-275.1 0,-285.9 0,-296 0,-305.2 0,-313.6 0,-321.1 0,-327.8 0,-333.5 0,-338.3 0,-342.2 0,-345.2 0,-347.2 0,-348.2M0,347.7L3.2,346.1 6.3,343.5 9.5,340 12.6,335.5 15.7,330.1 18.7,323.8 21.7,316.6 24.7,308.6 27.5,299.7 30.3,290 33,279.4 35.7,268.1 38.2,256.1 40.6,243.3 42.9,229.9 45.1,215.8 47.2,201.2 49.1,185.9 50.9,170.2 52.6,154 54.1,137.4 55.5,120.3 56.7,103 57.8,85.4 58.7,67.5 59.4,49.4 60,31.2 60.4,12.9 60.7,-5.4 60.8,-23.7 60.7,-41.9 60.4,-60 60,-78 59.4,-95.7 58.7,-113.2 57.8,-130.4 56.7,-147.2 55.5,-163.6 54.1,-179.5 52.6,-194.9 50.9,-209.8 49.1,-224.2 47.2,-237.8 45.1,-250.9 42.9,-263.2 40.6,-274.8 38.2,-285.7 35.6,-295.8 33,-305 30.3,-313.4 27.5,-321 24.6,-327.6 21.7,-333.4 18.7,-338.2 15.7,-342.1 12.6,-345.1 9.5,-347.1 6.3,-348.2M0,347.7L6.2,346.1 12.5,343.6 18.7,340.1 24.8,335.7 30.9,330.4 36.9,324.1 42.8,317 48.6,309 54.2,300.2 59.7,290.5 65.1,280 70.2,268.7 75.2,256.7 80,244 84.5,230.6 88.9,216.6 92.9,202 96.8,186.8 100.3,171.1 103.6,154.9 106.6,138.3 109.3,121.3 111.7,104 113.8,86.4 115.6,68.5 117.1,50.5 118.2,32.3 119,14 119.5,-4.3 119.7,-22.6 119.5,-40.8 119,-59 118.2,-76.9 117,-94.7 115.6,-112.1 113.8,-129.3 111.7,-146.1 109.3,-162.5 106.6,-178.5 103.6,-194 100.3,-208.9 96.7,-223.2 92.9,-237 88.8,-250 84.5,-262.4 79.9,-274.1 75.2,-285 70.2,-295.1 65,-304.4 59.7,-312.8 54.2,-320.4 48.5,-327.2 42.8,-333 36.9,-337.9 30.9,-341.8 24.8,-344.9 18.6,-346.9 12.5,-348.1M0,347.7L9.1,346.2 18.2,343.8 27.3,340.4 36.3,336.1 45.1,330.8 53.9,324.7 62.5,317.6 71,309.7 79.3,300.9 87.3,291.3 95.1,280.9 102.7,269.7 109.9,257.8 116.9,245.1 123.6,231.8 129.9,217.9 135.8,203.3 141.4,188.2 146.6,172.5 151.4,156.4 155.8,139.8 159.7,122.9 163.3,105.6 166.3,88 168.9,70.2 171.1,52.2 172.7,34 173.9,15.8 174.7,-2.5 174.9,-20.8 174.7,-39 173.9,-57.2 172.7,-75.1 171,-92.9 168.9,-110.4 166.3,-127.6 163.2,-144.4 159.7,-160.9 155.7,-176.9 151.4,-192.4 146.6,-207.3 141.4,-221.7 135.8,-235.5 129.8,-248.7 123.5,-261.1 116.8,-272.8 109.9,-283.8 102.6,-294 95.1,-303.4 87.2,-311.9 79.2,-319.6 70.9,-326.4 62.5,-332.3 53.9,-337.3 45.1,-341.3 36.2,-344.5 27.3,-346.6 18.2,-347.9M0,347.7L11.7,346.3 23.4,344 35.1,340.7 46.6,336.5 58,331.4 69.3,325.3 80.4,318.4 91.2,310.6 101.9,301.9 112.2,292.4 122.2,282.1 131.9,271 141.3,259.2 150.2,246.7 158.8,233.4 166.9,219.6 174.6,205.1 181.7,190 188.4,174.5 194.6,158.4 200.2,141.9 205.3,125 209.8,107.8 213.7,90.3 217.1,72.5 219.8,54.5 222,36.4 223.5,18.2 224.4,-0.1 224.7,-18.4 224.4,-36.6 223.5,-54.8 222,-72.7 219.8,-90.5 217,-108 213.7,-125.3 209.7,-142.1 205.2,-158.6 200.1,-174.7 194.5,-190.2 188.3,-205.3 181.7,-219.7 174.5,-233.6 166.8,-246.8 158.7,-259.3 150.2,-271.1 141.2,-282.2 131.9,-292.5 122.2,-302 112.1,-310.6 101.8,-318.4 91.2,-325.4 80.3,-331.4 69.3,-336.5 58,-340.7 46.6,-343.9 35,-346.2 23.4,-347.6M0,347.7L14,346.5 27.9,344.3 41.8,341.2 55.5,337.1 69.2,332.1 82.6,326.2 95.8,319.4 108.7,311.7 121.4,303.2 133.7,293.8 145.6,283.7 157.2,272.7 168.3,261 179,248.6 189.2,235.4 198.8,221.7 207.9,207.3 216.5,192.3 224.4,176.9 231.8,160.9 238.5,144.5 244.5,127.7 249.9,110.5 254.6,93 258.6,75.3 261.8,57.4 264.4,39.3 266.2,21.1 267.3,2.8 267.7,-15.4 267.3,-33.7 266.2,-51.8 264.4,-69.8 261.8,-87.6 258.5,-105.1 254.5,-122.4 249.8,-139.3 244.4,-155.8 238.4,-171.9 231.7,-187.6 224.3,-202.7 216.4,-217.2 207.8,-231.2 198.7,-244.5 189.1,-257.1 178.9,-269.1 168.2,-280.3 157.1,-290.7 145.6,-300.3 133.6,-309.1 121.3,-317 108.7,-324.1 95.7,-330.3 82.5,-335.5 69.1,-339.9 55.5,-343.3 41.8,-345.8M0,347.7L15.8,346.6 31.6,344.6 47.2,341.7 62.8,337.8 78.2,332.9 93.3,327.2 108.2,320.6 122.9,313 137.2,304.7 151.1,295.4 164.6,285.4 177.6,274.6 190.2,263 202.3,250.7 213.7,237.7 224.7,224.1 234.9,209.9 244.6,195 253.6,179.6 261.9,163.8 269.4,147.5 276.3,130.7 282.3,113.6 287.6,96.2 292.1,78.6 295.8,60.7 298.7,42.6 300.8,24.5 302,6.3 302.4,-12 302,-30.2 300.7,-48.3 298.7,-66.3 295.8,-84.2 292.1,-101.7 287.6,-119 282.3,-136 276.2,-152.6 269.3,-168.8 261.8,-184.5 253.5,-199.7 244.5,-214.3 234.9,-228.4 224.6,-241.8 213.6,-254.6 202.2,-266.7 190.1,-278 177.5,-288.5 164.5,-298.3 151,-307.3 137.1,-315.4 122.8,-322.6 108.2,-329 93.3,-334.4 78.1,-338.9 62.7,-342.5 47.2,-345.2M0,347.7L17.1,346.8 34.2,345 51.2,342.2 68.1,338.5 84.8,333.8 101.2,328.3 117.4,321.8 133.3,314.5 148.8,306.3 163.9,297.2 178.5,287.4 192.7,276.7 206.3,265.3 219.3,253.1 231.8,240.3 243.6,226.8 254.8,212.7 265.2,198 275,182.7 284,167 292.2,150.7 299.6,134.1 306.1,117.1 311.9,99.8 316.7,82.2 320.7,64.4 323.9,46.4 326.1,28.2 327.5,10 327.9,-8.2 327.4,-26.4 326.1,-44.5 323.8,-62.6 320.7,-80.4 316.7,-98 311.8,-115.4 306.1,-132.4 299.5,-149 292.1,-165.3 283.9,-181.1 274.9,-196.4 265.1,-211.2 254.7,-225.3 243.5,-238.9 231.7,-251.8 219.2,-264 206.2,-275.5 192.6,-286.2 178.4,-296.1 163.8,-305.3 148.7,-313.5 133.2,-321 117.4,-327.5 101.2,-333.2 84.7,-337.9M0,347.7L18,347 35.9,345.4 53.7,342.8 71.4,339.3 88.8,334.8 106.1,329.5 123,323.2 139.6,316 155.9,308 171.7,299.1 187,289.4 201.8,279 216.1,267.7 229.8,255.7 242.8,243 255.2,229.7 266.9,215.7 277.8,201.1 288,186 297.4,170.3 306,154.2 313.7,137.7 320.6,120.8 326.6,103.5 331.7,86 335.9,68.3 339.2,50.3 341.5,32.2 342.9,14.1 343.4,-4.2 342.9,-22.4 341.5,-40.5 339.1,-58.5 335.8,-76.4 331.6,-94 326.5,-111.4 320.5,-128.5 313.6,-145.3 305.9,-161.6 297.3,-177.5 287.9,-192.9 277.7,-207.8 266.8,-222.1 255.1,-235.8 242.7,-248.8 229.7,-261.2 216,-272.8 201.7,-283.7 186.9,-293.8 171.6,-303.1 155.8,-311.6 139.6,-319.2M0,347.7L18.2,347.2 36.4,345.8 54.5,343.4 72.5,340.1 90.2,335.8 107.7,330.7 124.9,324.6 141.7,317.6 158.2,309.8 174.2,301.1 189.8,291.6 204.8,281.3 219.3,270.2 233.2,258.4 246.4,245.8 259,232.6 270.8,218.8 281.9,204.3 292.2,189.3 301.8,173.8 310.5,157.8 318.3,141.4 325.3,124.6 331.4,107.4 336.6,90 340.8,72.3 344.1,54.4 346.5,36.3M-56.5,343.8L-57.5,343.6 -58.4,343.4 -59.2,343.2 -59.8,343 -60.2,342.8 -60.4,342.6 -60.5,342.4 -60.4,342.2 -60.2,342 -59.8,341.8 -59.2,341.6 -58.5,341.4 -57.6,341.2 -56.5,341 -55.3,340.8 -53.9,340.6 -52.4,340.5 -50.8,340.3 -49,340.1 -47.1,340 -45,339.8 -42.8,339.7 -40.5,339.5 -38.1,339.4 -35.6,339.3 -33,339.1 -30.3,339 -27.5,338.9 -24.6,338.8 -21.7,338.8 -18.7,338.7 -15.7,338.6 -12.6,338.6 -9.5,338.6 -6.3,338.5 -3.2,338.5 0,338.5 3.2,338.5 6.3,338.5 9.5,338.6 12.6,338.6 15.7,338.6 18.7,338.7 21.7,338.8 24.6,338.8 27.5,338.9 30.3,339 33,339.1 35.6,339.3 38.1,339.4 40.5,339.5 42.8,339.7 45,339.8 47.1,340 49,340.1 50.8,340.3 52.4,340.5 53.9,340.6 55.3,340.8 56.5,341 57.6,341.2 58.5,341.4 59.2,341.6 59.8,341.8 60.2,342 60.4,342.2 60.5,342.4 60.4,342.6 60.2,342.8 59.8,343 59.2,343.2 58.4,343.4 57.5,343.6 56.5,343.8M-117.7,327.9L-118.5,327.5 -119,327.1 -119.2,326.7 -119,326.3 -118.6,325.9 -117.8,325.5 -116.6,325.1 -115.2,324.7 -113.4,324.3 -111.3,324 -109,323.6 -106.3,323.2 -103.3,322.9 -100.1,322.5 -96.5,322.2 -92.7,321.9 -88.7,321.6 -84.4,321.3 -79.9,321 -75.1,320.7 -70.2,320.5 -65,320.3 -59.7,320.1 -54.2,319.9 -48.6,319.7 -42.8,319.5 -36.9,319.4 -30.9,319.3 -24.8,319.2 -18.7,319.1 -12.5,319.1 -6.2,319 0,319 6.2,319 12.5,319.1 18.7,319.1 24.8,319.2 30.9,319.3 36.9,319.4 42.8,319.5 48.6,319.7 54.2,319.9 59.7,320.1 65,320.3 70.2,320.5 75.1,320.7 79.9,321 84.4,321.3 88.7,321.6 92.7,321.9 96.5,322.2 100.1,322.5 103.3,322.9 106.3,323.2 109,323.6 111.3,324 113.4,324.3 115.2,324.7 116.6,325.1 117.8,325.5 118.6,325.9 119,326.3 119.2,326.7 119,327.1 118.5,327.5 117.7,327.9M-173.3,302.3L-174,301.7 -174.2,301.1 -174,300.5 -173.3,299.9 -172.2,299.3 -170.5,298.7 -168.4,298.2 -165.8,297.6 -162.8,297 -159.3,296.5 -155.4,296 -151.1,295.4 -146.3,294.9 -141.2,294.5 -135.6,294 -129.7,293.5 -123.4,293.1 -116.8,292.7 -109.9,292.3 -102.6,291.9 -95.1,291.6 -87.3,291.3 -79.3,291 -71,290.8 -62.6,290.5 -54,290.3 -45.2,290.2 -36.3,290 -27.3,289.9 -18.3,289.8 -9.1,289.8 0,289.8 9.1,289.8 18.3,289.8 27.3,289.9 36.3,290 45.2,290.2 54,290.3 62.6,290.5 71,290.8 79.3,291 87.3,291.3 95.1,291.6 102.6,291.9 109.9,292.3 116.8,292.7 123.4,293.1 129.7,293.5 135.6,294 141.2,294.5 146.3,294.9 151.1,295.4 155.4,296 159.3,296.5 162.8,297 165.8,297.6 168.4,298.2 170.5,298.7 172.2,299.3 173.3,299.9 174,300.5 174.2,301.1 174,301.7 173.3,302.3M-223.7,267.1L-224,266.3 -223.7,265.6 -222.8,264.8 -221.3,264 -219.2,263.3 -216.5,262.5 -213.2,261.8 -209.3,261.1 -204.9,260.4 -199.9,259.7 -194.3,259 -188.2,258.4 -181.5,257.7 -174.4,257.1 -166.8,256.5 -158.7,256 -150.2,255.4 -141.3,254.9 -132,254.5 -122.3,254 -112.3,253.6 -102,253.3 -91.4,252.9 -80.5,252.7 -69.4,252.4 -58.1,252.2 -46.7,252 -35.1,251.9 -23.5,251.8 -11.8,251.7 0,251.7 11.8,251.7 23.5,251.8 35.1,251.9 46.7,252 58.1,252.2 69.4,252.4 80.5,252.7 91.4,252.9 102,253.3 112.3,253.6 122.3,254 132,254.5 141.3,254.9 150.2,255.4 158.7,256 166.8,256.5 174.4,257.1 181.5,257.7 188.2,258.4 194.3,259 199.9,259.7 204.9,260.4 209.3,261.1 213.2,261.8 216.5,262.5 219.2,263.3 221.3,264 222.8,264.8 223.7,265.6 224,266.3 223.7,267.1M-266.9,223.5L-266.6,222.5 -265.6,221.6 -263.8,220.7 -261.3,219.8 -258.1,218.9 -254.2,218 -249.5,217.2 -244.2,216.3 -238.2,215.5 -231.6,214.7 -224.3,213.9 -216.4,213.1 -207.9,212.4 -198.8,211.7 -189.2,211 -179.1,210.4 -168.5,209.8 -157.4,209.2 -145.8,208.7 -133.9,208.2 -121.6,207.8 -108.9,207.4 -96,207 -82.8,206.7 -69.3,206.4 -55.7,206.2 -41.9,206.1 -28,205.9 -14,205.9 0,205.8 14,205.9 28,205.9 41.9,206.1 55.7,206.2 69.3,206.4 82.8,206.7 96,207 108.9,207.4 121.6,207.8 133.9,208.2 145.8,208.7 157.4,209.2 168.5,209.8 179.1,210.4 189.2,211 198.8,211.7 207.9,212.4 216.4,213.1 224.3,213.9 231.6,214.7 238.2,215.5 244.2,216.3 249.5,217.2 254.2,218 258.1,218.9 261.3,219.8 263.8,220.7 265.6,221.6 266.6,222.5 266.9,223.5M-301.8,173.8L-301.4,172.8 -300.2,171.7 -298.2,170.7 -295.4,169.6 -291.8,168.6 -287.4,167.6 -282.1,166.6 -276.1,165.6 -269.4,164.7 -261.9,163.8 -253.6,162.9 -244.7,162 -235.1,161.2 -224.9,160.4 -214,159.6 -202.5,158.9 -190.5,158.2 -177.9,157.5 -164.9,156.9 -151.4,156.4 -137.5,155.9 -123.2,155.4 -108.5,155 -93.6,154.7 -78.4,154.4 -63,154.1 -47.4,153.9 -31.7,153.8 -15.9,153.7 0,153.7 15.9,153.7 31.7,153.8 47.4,153.9 63,154.1 78.4,154.4 93.6,154.7 108.5,155 123.2,155.4 137.5,155.9 151.4,156.4 164.9,156.9 177.9,157.5 190.5,158.2 202.5,158.9 214,159.6 224.9,160.4 235.1,161.2 244.7,162 253.6,162.9 261.9,163.8 269.4,164.7 276.1,165.6 282.1,166.6 287.4,167.6 291.8,168.6 295.4,169.6 298.2,170.7 300.2,171.7 301.4,172.8 301.8,173.8M-327.4,118.9L-327,117.7 -325.8,116.6 -323.6,115.4 -320.6,114.3 -316.6,113.2 -311.8,112.1 -306.1,111 -299.6,109.9 -292.3,108.9 -284.2,107.9 -275.2,106.9 -265.6,105.9 -255.1,105 -244,104.1 -232.2,103.3 -219.8,102.5 -206.7,101.7 -193.1,101 -179,100.4 -164.3,99.8 -149.2,99.2 -133.7,98.7 -117.8,98.3 -101.6,97.9 -85.1,97.6 -68.4,97.3 -51.4,97.1 -34.4,96.9 -17.2,96.8 0,96.8 17.2,96.8 34.4,96.9 51.4,97.1 68.4,97.3 85.1,97.6 101.6,97.9 117.8,98.3 133.7,98.7 149.2,99.2 164.3,99.8 179,100.4 193.1,101 206.7,101.7 219.8,102.5 232.2,103.3 244,104.1 255.1,105 265.6,105.9 275.2,106.9 284.2,107.9 292.3,108.9 299.6,109.9 306.1,111 311.8,112.1 316.6,113.2 320.6,114.3 323.6,115.4 325.8,116.6 327,117.7 327.4,118.9M-343.1,60.4L-342.7,59.1 -341.4,57.9 -339.1,56.7 -335.9,55.5 -331.8,54.3 -326.8,53.1 -320.9,52 -314,50.9 -306.4,49.8 -297.8,48.7 -288.5,47.6 -278.3,46.6 -267.4,45.7 -255.8,44.7 -243.4,43.8 -230.4,43 -216.7,42.2 -202.4,41.4 -187.6,40.7 -172.2,40.1 -156.4,39.5 -140.1,39 -123.5,38.5 -106.5,38.1 -89.2,37.8 -71.7,37.5 -53.9,37.2 -36,37.1 -18,37 0,36.9 18,37 36,37.1 53.9,37.2 71.7,37.5 89.2,37.8 106.5,38.1 123.5,38.5 140.1,39 156.4,39.5 172.2,40.1 187.6,40.7 202.4,41.4 216.7,42.2 230.4,43 243.4,43.8 255.8,44.7 267.4,45.7 278.3,46.6 288.5,47.6 297.8,48.7 306.4,49.8 314,50.9 320.9,52 326.8,53.1 331.8,54.3 335.9,55.5 339.1,56.7 341.4,57.9 342.7,59.1 343.1,60.4M-348,-1.3L-346.7,-2.5 -344.4,-3.7 -341.1,-5 -336.9,-6.2 -331.8,-7.4 -325.8,-8.6 -318.9,-9.8 -311.1,-10.9 -302.4,-12 -292.9,-13.1 -282.6,-14.1 -271.5,-15.1 -259.7,-16.1 -247.2,-17 -233.9,-17.9 -220,-18.7 -205.5,-19.4 -190.5,-20.2 -174.9,-20.8 -158.8,-21.4 -142.3,-22 -125.4,-22.4 -108.1,-22.9 -90.6,-23.2 -72.8,-23.5 -54.8,-23.8 -36.6,-23.9 -18.3,-24 0,-24 18.3,-24 36.6,-23.9 54.8,-23.8 72.8,-23.5 90.6,-23.2 108.1,-22.9 125.4,-22.4 142.3,-22 158.8,-21.4 174.9,-20.8 190.5,-20.2 205.5,-19.4 220,-18.7 233.9,-17.9 247.2,-17 259.7,-16.1 271.5,-15.1 282.6,-14.1 292.9,-13.1 302.4,-12 311.1,-10.9 318.9,-9.8 325.8,-8.6 331.8,-7.4 336.9,-6.2 341.1,-5 344.4,-3.7 346.7,-2.5 348,-1.3M-342.7,-61.6L-341.4,-62.8 -339.1,-64.1 -335.9,-65.3 -331.8,-66.5 -326.8,-67.7 -320.8,-68.9 -314,-70.1 -306.3,-71.2 -297.8,-72.3 -288.4,-73.4 -278.3,-74.4 -267.4,-75.4 -255.7,-76.4 -243.4,-77.3 -230.3,-78.1 -216.7,-79 -202.4,-79.7 -187.6,-80.4 -172.2,-81.1 -156.4,-81.7 -140.1,-82.2 -123.5,-82.7 -106.5,-83.1 -89.2,-83.5 -71.6,-83.8 -53.9,-84 -36,-84.2 -18,-84.3 0,-84.3 18,-84.3 36,-84.2 53.9,-84 71.6,-83.8 89.2,-83.5 106.5,-83.1 123.5,-82.7 140.1,-82.2 156.4,-81.7 172.2,-81.1 187.6,-80.4 202.4,-79.7 216.7,-79 230.3,-78.1 243.4,-77.3 255.7,-76.4 267.4,-75.4 278.3,-74.4 288.4,-73.4 297.8,-72.3 306.3,-71.2 314,-70.1 320.8,-68.9 326.8,-67.7 331.8,-66.5 335.9,-65.3 339.1,-64.1 341.4,-62.8 342.7,-61.6M-327,-120.1L-325.7,-121.3 -323.5,-122.5 -320.5,-123.7 -316.6,-124.8 -311.7,-126 -306.1,-127.1 -299.6,-128.2 -292.2,-129.3 -284.1,-130.4 -275.2,-131.4 -265.5,-132.4 -255.1,-133.4 -244,-134.3 -232.2,-135.2 -219.7,-136 -206.7,-136.8 -193.1,-137.5 -178.9,-138.2 -164.3,-138.9 -149.2,-139.4 -133.7,-140 -117.8,-140.4 -101.6,-140.8 -85.1,-141.2 -68.3,-141.5 -51.4,-141.7 -34.4,-141.8 -17.2,-141.9 0,-142 17.2,-141.9 34.4,-141.8 51.4,-141.7 68.3,-141.5 85.1,-141.2 101.6,-140.8 117.8,-140.4 133.7,-140 149.2,-139.4 164.3,-138.9 178.9,-138.2 193.1,-137.5 206.7,-136.8 219.7,-136 232.2,-135.2 244,-134.3 255.1,-133.4 265.5,-132.4 275.2,-131.4 284.1,-130.4 292.2,-129.3 299.6,-128.2 306.1,-127.1 311.7,-126 316.6,-124.8 320.5,-123.7 323.5,-122.5 325.7,-121.3 327,-120.1M-301.3,-174.9L-300.1,-176 -298.1,-177.1 -295.3,-178.2 -291.7,-179.3 -287.3,-180.4 -282,-181.4 -276,-182.5 -269.3,-183.5 -261.8,-184.5 -253.6,-185.5 -244.6,-186.4 -235,-187.3 -224.8,-188.1 -213.9,-188.9 -202.5,-189.7 -190.4,-190.5 -177.9,-191.1 -164.9,-191.8 -151.4,-192.4 -137.4,-192.9 -123.2,-193.4 -108.5,-193.8 -93.6,-194.2 -78.4,-194.5 -63,-194.8 -47.4,-195 -31.7,-195.1 -15.9,-195.2 0,-195.3 15.9,-195.2 31.7,-195.1 47.4,-195 63,-194.8 78.4,-194.5 93.6,-194.2 108.5,-193.8 123.2,-193.4 137.4,-192.9 151.4,-192.4 164.9,-191.8 177.9,-191.1 190.4,-190.5 202.5,-189.7 213.9,-188.9 224.8,-188.1 235,-187.3 244.6,-186.4 253.6,-185.5 261.8,-184.5 269.3,-183.5 276,-182.5 282,-181.4 287.3,-180.4 291.7,-179.3 295.3,-178.2 298.1,-177.1 300.1,-176 301.3,-174.9M-265.5,-225.4L-263.7,-226.4 -261.2,-227.3 -258,-228.3 -254.1,-229.3 -249.4,-230.2 -244.1,-231.2 -238.1,-232.1 -231.5,-232.9 -224.2,-233.8 -216.3,-234.6 -207.8,-235.4 -198.8,-236.2 -189.2,-236.9 -179,-237.6 -168.4,-238.3 -157.3,-238.9 -145.8,-239.5 -133.8,-240 -121.5,-240.5 -108.9,-240.9 -95.9,-241.3 -82.7,-241.6 -69.3,-241.9 -55.7,-242.1 -41.9,-242.3 -28,-242.5 -14,-242.5 0,-242.6 14,-242.5 28,-242.5 41.9,-242.3 55.7,-242.1 69.3,-241.9 82.7,-241.6 95.9,-241.3 108.9,-240.9 121.5,-240.5 133.8,-240 145.8,-239.5 157.3,-238.9 168.4,-238.3 179,-237.6 189.2,-236.9 198.8,-236.2 207.8,-235.4 216.3,-234.6 224.2,-233.8 231.5,-232.9 238.1,-232.1 244.1,-231.2 249.4,-230.2 254.1,-229.3 258,-228.3 261.2,-227.3 263.7,-226.4 265.5,-225.4M-222.7,-267.9L-221.2,-268.7 -219.1,-269.6 -216.4,-270.4 -213.1,-271.2 -209.2,-272 -204.8,-272.8 -199.8,-273.5 -194.2,-274.3 -188.1,-275 -181.4,-275.7 -174.3,-276.4 -166.7,-277 -158.6,-277.7 -150.1,-278.2 -141.2,-278.8 -131.9,-279.3 -122.2,-279.8 -112.2,-280.2 -101.9,-280.6 -91.3,-281 -80.5,-281.3 -69.4,-281.6 -58.1,-281.9 -46.7,-282.1 -35.1,-282.2 -23.5,-282.3 -11.8,-282.4 0,-282.4 11.8,-282.4 23.5,-282.3 35.1,-282.2 46.7,-282.1 58.1,-281.9 69.4,-281.6 80.5,-281.3 91.3,-281 101.9,-280.6 112.2,-280.2 122.2,-279.8 131.9,-279.3 141.2,-278.8 150.1,-278.2 158.6,-277.7 166.7,-277 174.3,-276.4 181.4,-275.7 188.1,-275 194.2,-274.3 199.8,-273.5 204.8,-272.8 209.2,-272 213.1,-271.2 216.4,-270.4 219.1,-269.6 221.2,-268.7 222.7,-267.9M-172.1,-302.9L-170.4,-303.6 -168.3,-304.2 -165.7,-304.8 -162.7,-305.5 -159.2,-306.1 -155.3,-306.7 -151,-307.3 -146.2,-307.8 -141.1,-308.4 -135.5,-308.9 -129.6,-309.4 -123.3,-309.9 -116.7,-310.3 -109.8,-310.8 -102.6,-311.2 -95,-311.6 -87.2,-311.9 -79.2,-312.2 -71,-312.5 -62.5,-312.8 -53.9,-313 -45.2,-313.2 -36.3,-313.3 -27.3,-313.5 -18.2,-313.5 -9.1,-313.6 0,-313.6 9.1,-313.6 18.2,-313.5 27.3,-313.5 36.3,-313.3 45.2,-313.2 53.9,-313 62.5,-312.8 71,-312.5 79.2,-312.2 87.2,-311.9 95,-311.6 102.6,-311.2 109.8,-310.8 116.7,-310.3 123.3,-309.9 129.6,-309.4 135.5,-308.9 141.1,-308.4 146.2,-307.8 151,-307.3 155.3,-306.7 159.2,-306.1 162.7,-305.5 165.7,-304.8 168.3,-304.2 170.4,-303.6 172.1,-302.9M-116.6,-328.3L-115.1,-328.8 -113.3,-329.2 -111.3,-329.6 -108.9,-330.1 -106.2,-330.5 -103.2,-330.9 -100,-331.3 -96.5,-331.6 -92.7,-332 -88.6,-332.3 -84.3,-332.7 -79.8,-333 -75.1,-333.3 -70.1,-333.6 -65,-333.8 -59.6,-334.1 -54.2,-334.3 -48.5,-334.5 -42.8,-334.6 -36.9,-334.8 -30.9,-334.9 -24.8,-335 -18.7,-335.1 -12.5,-335.2 -6.2,-335.2 0,-335.2 6.2,-335.2 12.5,-335.2 18.7,-335.1 24.8,-335 30.9,-334.9 36.9,-334.8 42.8,-334.6 48.5,-334.5 54.2,-334.3 59.6,-334.1 65,-333.8 70.1,-333.6 75.1,-333.3 79.8,-333 84.3,-332.7 88.6,-332.3 92.7,-332 96.5,-331.6 100,-331.3 103.2,-330.9 106.2,-330.5 108.9,-330.1 111.3,-329.6 113.3,-329.2 115.1,-328.8 116.6,-328.3M-53.9,-344.2L-52.4,-344.4 -50.7,-344.6 -49,-344.8 -47,-345 -45,-345.2 -42.8,-345.3 -40.5,-345.5 -38.1,-345.6 -35.6,-345.8 -33,-345.9 -30.3,-346 -27.5,-346.1 -24.6,-346.2 -21.7,-346.3 -18.7,-346.4 -15.7,-346.5 -12.6,-346.5 -9.5,-346.6 -6.3,-346.6 -3.2,-346.6 0,-346.6 3.2,-346.6 6.3,-346.6 9.5,-346.6 12.6,-346.5 15.7,-346.5 18.7,-346.4 21.7,-346.3 24.6,-346.2 27.5,-346.1 30.3,-346 33,-345.9 35.6,-345.8 38.1,-345.6 40.5,-345.5 42.8,-345.3 45,-345.2 47,-345 49,-344.8 50.7,-344.6 52.4,-344.4 53.9,-344.2"/>
</defs>
<rect width="1971" height="1026" fill="#fff"/>
<text x="940.6" y="52.5" font-size="40.2" text-anchor="middle">CrAO/STT-2 HeI 10830 Å 2025-05-03 08:07:25 UTC</text>
<g id="ax0">
<rect x="137.0" y="128.2" width="808.0" height="808.5" fill="#000"/>
<g transform="translate(541.00,532.20)">
<g clip-path="url(#disk)"><g filter="url(#cmL)" style="isolation:isolate"><rect x="-360" y="-360" width="720" height="720" fill="#80ff00"/><use href="#feat"/><rect x="-360" y="-360" width="720" height="720" fill="url(#ld)" style="mix-blend-mode:multiply"/><rect x="-360" y="-360" width="720" height="720" fill="url(#vg)" style="mix-blend-mode:multiply"/></g></g>
</g>
<g stroke="#fff" stroke-opacity="0.5" stroke-width="1" stroke-dasharray="1 1.65" fill="none">
<path d="M174.70,936.7V128.2"/>
<path d="M137.0,899.30H945.0"/>
<path d="M358.10,936.7V128.2"/>
<path d="M137.0,716.05H945.0"/>
<path d="M541.50,936.7V128.2"/>
<path d="M137.0,532.80H945.0"/>
<path d="M724.90,936.7V128.2"/>
<path d="M137.0,349.55H945.0"/>
<path d="M908.30,936.7V128.2"/>
<path d="M137.0,166.30H945.0"/>
</g>
<g transform="translate(541.00,532.20)">
<use href="#hg" fill="none" stroke="#fff" stroke-opacity="0.62" stroke-width="1.5"/>
<circle r="348.40" fill="none" stroke="#fff" stroke-width="2.3"/>
</g>
<path d="M137.0,129.0H945.0" stroke="#333" stroke-width="1.6" fill="none"/>
<path d="M944.4,128.2v22" stroke="#333" stroke-width="1.2" fill="none"/>
<g stroke="#000" stroke-width="2" fill="none">
<path d="M174.70,936.7v6.6"/>
<path d="M137.0,898.90h-6"/>
<path d="M358.10,936.7v6.6"/>
<path d="M137.0,715.65h-6"/>
<path d="M541.50,936.7v6.6"/>
<path d="M137.0,532.40h-6"/>
<path d="M724.90,936.7v6.6"/>
<path d="M137.0,349.15h-6"/>
<path d="M908.30,936.7v6.6"/>
<path d="M137.0,165.90h-6"/>
</g>
<g font-size="20">
<text x="175.0" y="966.4" text-anchor="middle">-1000&quot;</text>
<text x="123.9" y="905.1" text-anchor="end">-1000&quot;</text>
<text x="358.4" y="966.4" text-anchor="middle">-500&quot;</text>
<text x="123.9" y="721.8" text-anchor="end">-500&quot;</text>
<text x="541.8" y="966.4" text-anchor="middle">0&quot;</text>
<text x="123.9" y="538.6" text-anchor="end">0&quot;</text>
<text x="725.2" y="966.4" text-anchor="middle">500&quot;</text>
<text x="123.9" y="355.3" text-anchor="end">500&quot;</text>
<text x="908.6" y="966.4" text-anchor="middle">1000&quot;</text>
<text x="123.9" y="172.1" text-anchor="end">1000&quot;</text>
</g>
<text x="541.5" y="1005.8" font-size="28" text-anchor="middle">Helioprojective Longitude (Solar-X)</text>
<text transform="translate(34.7,533.1) rotate(-90)" font-size="28" text-anchor="middle">Helioprojective Latitude (Solar-Y)</text>
<text x="146.4" y="168.6" font-size="20" class="w">B0 = -3.94</text>
<text x="537.1" y="160.8" font-size="20" class="w">N</text>
<path d="M531.3,144.5V169" stroke="#fff" stroke-width="3" fill="none"/>
</g>
<g id="ax1">
<rect x="1150.2" y="128.2" width="807.8" height="808.5" fill="#000"/>
<g transform="translate(1554.50,532.20)">
<g clip-path="url(#disk)"><g filter="url(#cmR)" style="isolation:isolate"><rect x="-360" y="-360" width="720" height="720" fill="#80ff00"/><use href="#feat"/><rect x="-360" y="-360" width="720" height="720" fill="url(#ldr)" style="mix-blend-mode:multiply"/></g></g>
</g>
<g stroke="#fff" stroke-opacity="0.5" stroke-width="1" stroke-dasharray="1 1.65" fill="none">
<path d="M1188.20,936.7V128.2"/>
<path d="M1150.2,899.30H1958.0"/>
<path d="M1371.60,936.7V128.2"/>
<path d="M1150.2,716.05H1958.0"/>
<path d="M1555.00,936.7V128.2"/>
<path d="M1150.2,532.80H1958.0"/>
<path d="M1738.40,936.7V128.2"/>
<path d="M1150.2,349.55H1958.0"/>
<path d="M1921.80,936.7V128.2"/>
<path d="M1150.2,166.30H1958.0"/>
</g>
<g transform="translate(1554.50,532.20)">
<use href="#hg" fill="none" stroke="#fff" stroke-opacity="0.62" stroke-width="1.5"/>
<circle r="348.40" fill="none" stroke="#fff" stroke-width="2.3"/>
</g>
<path d="M1150.2,129.0H1958.0" stroke="#333" stroke-width="1.6" fill="none"/>
<path d="M1957.4,128.2v22" stroke="#333" stroke-width="1.2" fill="none"/>
<g stroke="#000" stroke-width="2" fill="none">
<path d="M1188.20,936.7v6.6"/>
<path d="M1150.2,898.90h-6"/>
<path d="M1371.60,936.7v6.6"/>
<path d="M1150.2,715.65h-6"/>
<path d="M1555.00,936.7v6.6"/>
<path d="M1150.2,532.40h-6"/>
<path d="M1738.40,936.7v6.6"/>
<path d="M1150.2,349.15h-6"/>
<path d="M1921.80,936.7v6.6"/>
<path d="M1150.2,165.90h-6"/>
</g>
<g font-size="20">
<text x="1188.5" y="966.4" text-anchor="middle">-1000&quot;</text>
<text x="1137.1" y="905.1" text-anchor="end">-1000&quot;</text>
<text x="1371.9" y="966.4" text-anchor="middle">-500&quot;</text>
<text x="1137.1" y="721.8" text-anchor="end">-500&quot;</text>
<text x="1555.3" y="966.4" text-anchor="middle">0&quot;</text>
<text x="1137.1" y="538.6" text-anchor="end">0&quot;</text>
<text x="1738.7" y="966.4" text-anchor="middle">500&quot;</text>
<text x="1137.1" y="355.3" text-anchor="end">500&quot;</text>
<text x="1922.1" y="966.4" text-anchor="middle">1000&quot;</text>
<text x="1137.1" y="172.1" text-anchor="end">1000&quot;</text>
</g>
<text x="1555.0" y="1005.8" font-size="28" text-anchor="middle">Helioprojective Longitude (Solar-X)</text>
<text transform="translate(1047.9,533.1) rotate(-90)" font-size="28" text-anchor="middle">Helioprojective Latitude (Solar-Y)</text>
<text x="1159.6" y="168.6" font-size="20" class="w">B0 = -3.94</text>
<text x="1550.6" y="160.8" font-size="20" class="w">N</text>
<path d="M1544.8,144.5V169" stroke="#fff" stroke-width="3" fill="none"/>
</g>
</svg></body></html>
